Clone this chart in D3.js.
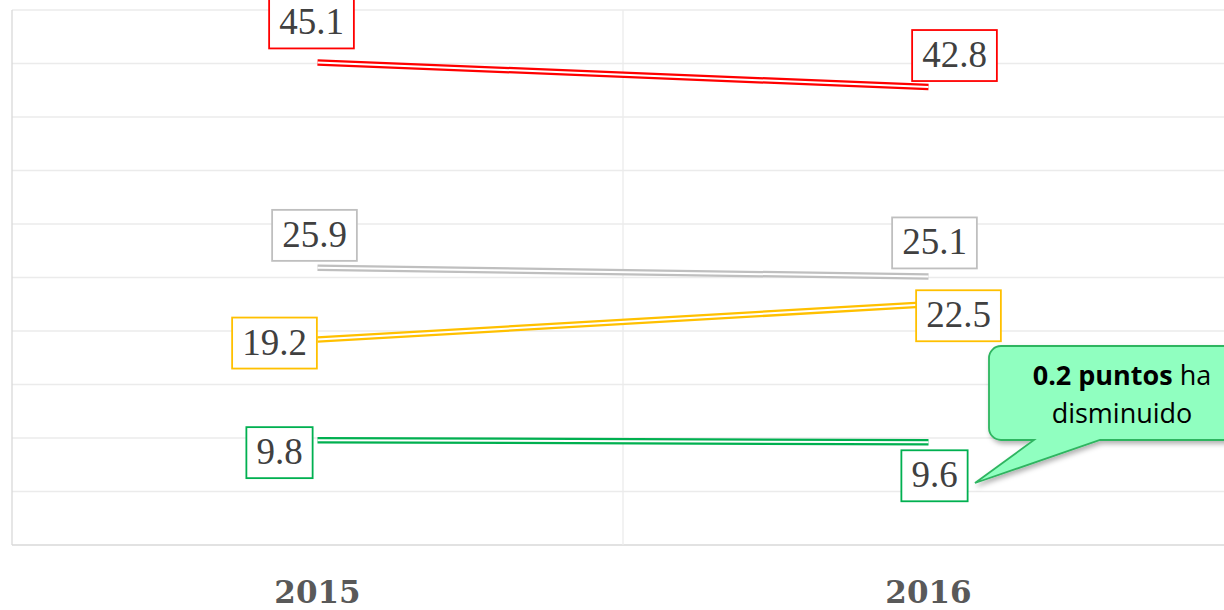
<!DOCTYPE html>
<html>
<head>
<meta charset="utf-8">
<script src="https://cdn.jsdelivr.net/npm/d3@7"></script>
<style>
  body { margin: 0; background: #fff; overflow: hidden; }
  svg { display: block; }
</style>
</head>
<body>
<svg id="chart"></svg>
<script>
// data
var years = ["2015", "2016"];
var seriesNames = ["rojo", "gris", "amarillo", "verde"];
var seriesColors = ["#ff0000", "#bfbfbf", "#ffc000", "#00b050"];
var values2015 = [45.1, 25.9, 19.2, 9.8];
var values2016 = [42.8, 25.1, 22.5, 9.6];
var yTicks = [0, 5, 10, 15, 20, 25, 30, 35, 40, 45, 50];
var calloutBold = "0.2 puntos";
var calloutRest = " ha";
var calloutLine2 = "disminuido";

// label box offsets from their point (layout only)
var labelOffsets2015 = [[-6, -40], [-3, -33], [-43, 3], [-38, 12]];
var labelOffsets2016 = [[26, -32], [6, -34], [30, 11], [6, 33]];

var W = 1224, H = 610;
var svg = d3.select("#chart").attr("width", W).attr("height", H);

var x = d3.scaleBand()
  .domain(years)
  .range([12, 1234])
  .padding(0);

var y = d3.scaleLinear()
  .domain([0, 50])
  .range([545, 10]);

var cx = function(yr) { return x(yr) + x.bandwidth() / 2; };

// grid
var grid = svg.append("g");
grid.selectAll(".h")
  .data(yTicks)
  .enter().append("line")
    .attr("x1", 12).attr("x2", 1234)
    .attr("y1", d => y(d)).attr("y2", d => y(d))
    .attr("stroke", d => d === 0 ? "#d9d9d9" : "#ebebeb")
    .attr("stroke-width", 1.3);
grid.selectAll(".v")
  .data([12, x("2016"), 1234])
  .enter().append("line")
    .attr("x1", d => d).attr("x2", d => d)
    .attr("y1", y(50)).attr("y2", y(0))
    .attr("stroke", (d, i) => i === 0 ? "#d9d9d9" : "#ebebeb")
    .attr("stroke-width", 1.3);

// x axis labels
svg.selectAll(".yr")
  .data(years)
  .enter().append("text")
    .attr("x", d => cx(d))
    .attr("y", 603)
    .attr("text-anchor", "middle")
    .attr("font-family", "'DejaVu Serif', serif")
    .attr("font-weight", "bold")
    .attr("font-size", "31px")
    .attr("fill", "#595959")
    .text(d => d);

var series = seriesNames.map((n, i) => ({
  name: n,
  color: seriesColors[i],
  pts: [
    {yr: years[0], v: values2015[i], off: labelOffsets2015[i]},
    {yr: years[1], v: values2016[i], off: labelOffsets2016[i]}
  ]
}));

var line = d3.line().x(d => cx(d.yr)).y(d => y(d.v));

// double lines
var lines = svg.append("g");
series.forEach(s => {
  lines.append("path")
    .datum(s.pts)
    .attr("d", line)
    .attr("fill", "none")
    .attr("stroke", s.color)
    .attr("stroke-width", 6.5);
  lines.append("path")
    .datum(s.pts)
    .attr("d", line)
    .attr("fill", "none")
    .attr("stroke", "#fff")
    .attr("stroke-width", 2);
});

// labels
var labels = svg.append("g");
series.forEach(s => {
  s.pts.forEach(p => {
    var lx = cx(p.yr) + p.off[0], ly = y(p.v) + p.off[1];
    var g = labels.append("g");
    var rect = g.append("rect");
    var t = g.append("text")
      .attr("x", lx)
      .attr("y", ly + 12)
      .attr("text-anchor", "middle")
      .attr("font-family", "'Liberation Serif', serif")
      .attr("font-size", "37px")
      .attr("fill", "#404040")
      .text(p.v.toFixed(1));
    var tw = t.node().getComputedTextLength();
    rect.attr("x", lx - tw / 2 - 10)
      .attr("y", ly - 25)
      .attr("width", tw + 20)
      .attr("height", 51)
      .attr("fill", "#fff")
      .attr("stroke", s.color)
      .attr("stroke-width", 1.8);
  });
});

// callout
var defs = svg.append("defs");
var f = defs.append("filter").attr("id", "shadow")
  .attr("x", "-20%").attr("y", "-20%").attr("width", "140%").attr("height", "150%");
f.append("feDropShadow")
  .attr("dx", 2).attr("dy", 3).attr("stdDeviation", 2.5)
  .attr("flood-color", "#000").attr("flood-opacity", 0.3);

var bx = 989, by = 346, bw = 260, bh = 94, r = 12;
var tipX = 975, tipY = 483;
var path = d3.path();
path.moveTo(bx + r, by);
path.lineTo(bx + bw - r, by);
path.arcTo(bx + bw, by, bx + bw, by + r, r);
path.lineTo(bx + bw, by + bh - r);
path.arcTo(bx + bw, by + bh, bx + bw - r, by + bh, r);
path.lineTo(1100, by + bh);
path.lineTo(tipX, tipY);
path.lineTo(1034, by + bh);
path.lineTo(bx + r, by + bh);
path.arcTo(bx, by + bh, bx, by + bh - r, r);
path.lineTo(bx, by + r);
path.arcTo(bx, by, bx + r, by, r);
path.closePath();

svg.append("path")
  .attr("d", path.toString())
  .attr("fill", "#90ffc0")
  .attr("stroke", "#2fb560")
  .attr("stroke-width", 1.8)
  .attr("filter", "url(#shadow)");

var ct = svg.append("text")
  .attr("x", 1122)
  .attr("y", 385)
  .attr("text-anchor", "middle")
  .attr("font-family", "'Open Sans', sans-serif")
  .attr("font-size", "27px")
  .attr("fill", "#000");
ct.append("tspan").attr("font-weight", "bold").text(calloutBold);
ct.append("tspan").text(calloutRest);
svg.append("text")
  .attr("x", 1122)
  .attr("y", 423)
  .attr("text-anchor", "middle")
  .attr("font-family", "'Open Sans', sans-serif")
  .attr("font-size", "27px")
  .attr("fill", "#000")
  .text(calloutLine2);
</script>
</body>
</html>
